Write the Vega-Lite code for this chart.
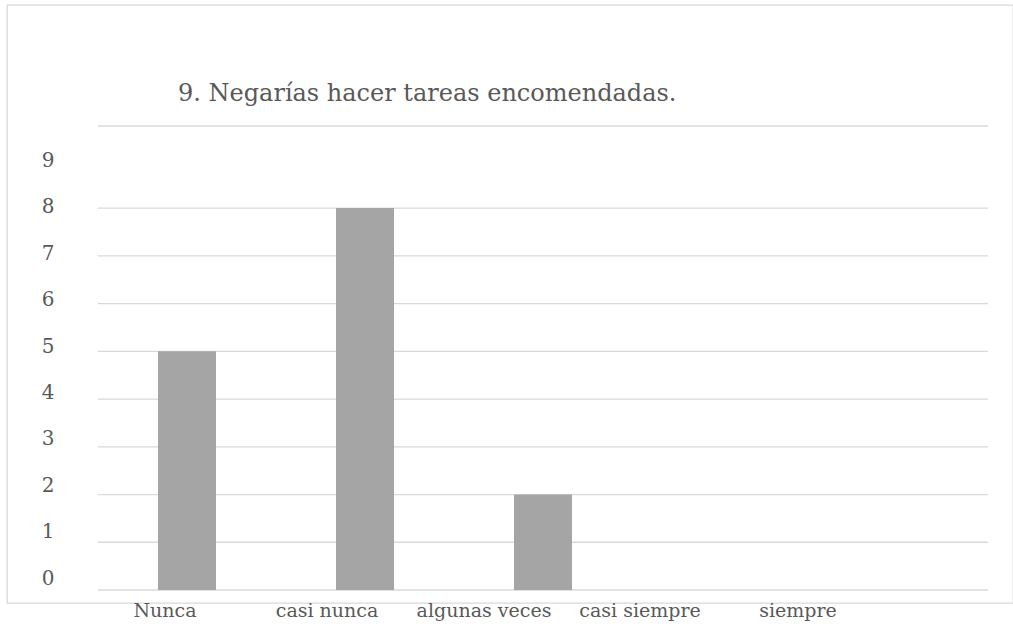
{
  "$schema": "https://vega.github.io/schema/vega-lite/v6.json",
  "autosize": "none",
  "width": 1006,
  "height": 598,
  "padding": {"left": 7, "top": 5, "right": 0, "bottom": 21},
  "background": "white",
  "config": {
    "view": {"stroke": "#d9d9d9", "strokeWidth": 1.3},
    "font": "DejaVu Serif"
  },
  "title": {
    "text": "9. Negarías hacer tareas encomendadas.",
    "font": "DejaVu Serif",
    "fontSize": 24,
    "fontWeight": "normal",
    "color": "#595959",
    "anchor": "start",
    "frame": "group",
    "baseline": "alphabetic",
    "offset": -120,
    "dx": 171
  },
  "resolve": {"scale": {"x": "independent"}, "axis": {"x": "independent"}},
  "layer": [
    {
      "data": {"values": [{"g": 0}, {"g": 1}, {"g": 2}, {"g": 3}, {"g": 4}, {"g": 5}, {"g": 6}, {"g": 7}, {"g": 8}, {"g": 9.72}]},
      "mark": {"type": "rule", "color": "#d9d9d9", "strokeWidth": 1.3},
      "encoding": {
        "y": {"field": "g", "type": "quantitative", "scale": {"domain": [0, 9.72], "range": [585, 121], "nice": false}, "axis": {
          "values": [0, 1, 2, 3, 4, 5, 6, 7, 8, 9],
          "format": "d",
          "grid": false, "domain": false, "ticks": false, "title": null,
          "offset": -47, "labelPadding": 0, "labelAlign": "right", "labelBaseline": "middle",
          "labelFont": "DejaVu Serif", "labelFontSize": 20, "labelColor": "#595959",
          "labelOffset": {"expr": "-12 + 1.35*datum.value"}
        }},
        "x": {"datum": 0, "type": "quantitative", "scale": {"domain": [0, 1], "range": [91, 981]}, "axis": null},
        "x2": {"datum": 1}
      }
    },
    {
      "data": {"values": [
        {"respuesta": "Nunca", "n": 5},
        {"respuesta": "casi nunca", "n": 8},
        {"respuesta": "algunas veces", "n": 2},
        {"respuesta": "casi siempre", "n": 0},
        {"respuesta": "siempre", "n": 0}
      ]},
      "mark": {"type": "bar", "color": "#a5a5a5"},
      "encoding": {
        "x": {"field": "respuesta", "type": "nominal", "sort": null,
          "scale": {"range": [91, 981], "paddingInner": 0.674, "paddingOuter": 0.337},
          "axis": {"title": null, "domain": false, "ticks": false, "grid": false, "labelAngle": 0,
            "labelPadding": 13, "labelBaseline": "alphabetic", "labelAlign": "center",
            "labelFont": "DejaVu Serif", "labelFontSize": 19, "labelColor": "#595959",
            "labelOffset": {"expr": "datum.value=='Nunca'?-22:datum.value=='casi nunca'?-38:datum.value=='algunas veces'?-59:datum.value=='casi siempre'?-81:-101"}
          }},
        "y": {"field": "n", "type": "quantitative"}
      }
    }
  ]
}
